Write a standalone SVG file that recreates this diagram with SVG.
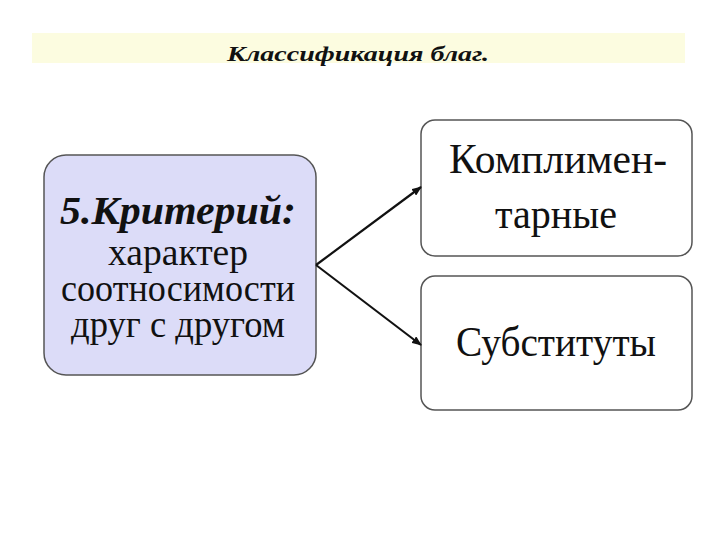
<svg xmlns="http://www.w3.org/2000/svg" width="720" height="540" viewBox="0 0 720 540">
<defs>
<style>
.t{font-family:"Liberation Serif","Times New Roman",serif;fill:#111;text-anchor:middle}
.box{stroke:#555;stroke-width:1.5}
.c{stroke:#111;stroke-width:2.2;fill:none}
</style>
<marker id="ah" markerWidth="10" markerHeight="8" refX="9" refY="4" orient="auto" markerUnits="userSpaceOnUse"><path d="M0,0 L10,4 L0,8 Z" fill="#111"/></marker>
</defs>
<rect width="720" height="540" fill="#fff"/>
<rect x="32" y="33" width="653" height="30" fill="#fcfce0"/>
<text class="t" x="358" y="61" font-size="22" font-style="italic" font-weight="bold" textLength="262" lengthAdjust="spacingAndGlyphs">Классификация благ.</text>
<g id="n1">
<rect class="box" x="44" y="155" width="272" height="220" rx="22" fill="#dcdcf8"/>
<text class="t" x="178" y="224" font-size="40" font-style="italic" font-weight="bold" textLength="236" lengthAdjust="spacingAndGlyphs">5.Критерий:</text>
<text class="t" x="178" y="265" font-size="37" textLength="140" lengthAdjust="spacingAndGlyphs">характер</text>
<text class="t" x="178" y="301" font-size="37" textLength="234" lengthAdjust="spacingAndGlyphs">соотносимости</text>
<text class="t" x="178" y="337" font-size="37" textLength="214" lengthAdjust="spacingAndGlyphs">друг с другом</text>
</g>
<g id="n2">
<rect class="box" x="421" y="120" width="271" height="136" rx="14" fill="#fff"/>
<text class="t" x="558" y="173" font-size="42" textLength="218" lengthAdjust="spacingAndGlyphs">Комплимен-</text>
<text class="t" x="556" y="228" font-size="42" textLength="122" lengthAdjust="spacingAndGlyphs">тарные</text>
</g>
<g id="n3">
<rect class="box" x="421" y="276" width="271" height="134" rx="14" fill="#fff"/>
<text class="t" x="556" y="356" font-size="42" textLength="200" lengthAdjust="spacingAndGlyphs">Субституты</text>
</g>
<g id="connectors">
<path class="c" d="M316,265 L421,187" marker-end="url(#ah)"/>
<path class="c" d="M316,265 L421,345" marker-end="url(#ah)"/>
</g>
</svg>
